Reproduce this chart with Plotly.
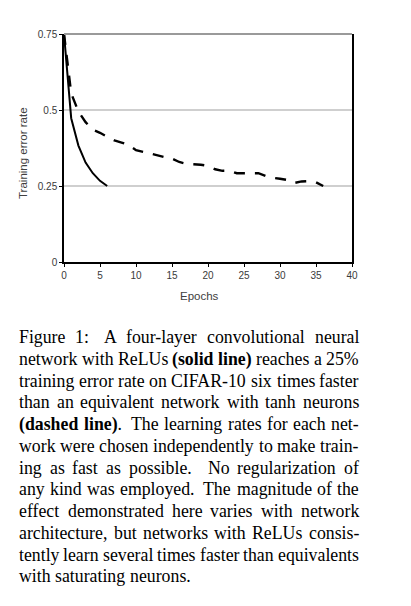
import re
import plotly.graph_objects as go

# ---------------- data ----------------
relu_epochs = [0, 1, 2, 3, 4, 5, 6]
relu_error = [0.75, 0.473, 0.383, 0.327, 0.292, 0.267, 0.25]

tanh_epochs = list(range(0, 37))
tanh_error = [0.75, 0.555, 0.495, 0.46, 0.435, 0.425, 0.412, 0.40, 0.393, 0.385,
              0.368, 0.362, 0.355, 0.35, 0.345, 0.34, 0.329, 0.323, 0.322, 0.32,
              0.316, 0.305, 0.300, 0.300, 0.292, 0.292, 0.294, 0.292, 0.283, 0.277,
              0.274, 0.27, 0.26, 0.265, 0.266, 0.262, 0.25]

x_ticks = [0, 5, 10, 15, 20, 25, 30, 35, 40]
y_ticks = [0, 0.25, 0.5, 0.75]
y_ticktext = ["0", "0.25", "0.5", "0.75"]

x_title = "Epochs"
y_title = "Training error rate"

caption_lines = [
    "Figure 1:  A four-layer convolutional neural",
    "network with ReLUs <b>(solid</b> <b>line)</b> reaches a 25%",
    "training error rate on CIFAR-10 six times faster",
    "than an equivalent network with tanh neurons",
    "<b>(dashed</b> <b>line)</b>. The learning rates for each net-",
    "work were chosen independently to make train-",
    "ing as fast as possible.  No regularization of",
    "any kind was employed. The magnitude of the",
    "effect demonstrated here varies with network",
    "architecture, but networks with ReLUs consis-",
    "tently learn several times faster than equivalents",
    "with saturating neurons.",
]

# ---------------- figure geometry ----------------
W, H = 411, 606
ML, MR, MT, MB = 64, 59, 34, 344
PW, PH = W - ML - MR, H - MT - MB

fig = go.Figure()
fig.add_trace(go.Scatter(x=tanh_epochs, y=tanh_error, mode="lines",
                         line=dict(color="black", width=2.4, dash="11px,10px"),
                         showlegend=False, hoverinfo="skip"))
fig.add_trace(go.Scatter(x=relu_epochs, y=relu_error, mode="lines",
                         line=dict(color="black", width=2),
                         showlegend=False, hoverinfo="skip"))

tick_font = dict(family="Liberation Sans, Arial, sans-serif", size=10, color="#3a3a3a")
fig.update_layout(
    width=W, height=H,
    margin=dict(l=ML, r=MR, t=MT, b=MB, pad=0),
    paper_bgcolor="white", plot_bgcolor="white",
    xaxis=dict(range=[0, 40], tickvals=x_ticks, showgrid=False, zeroline=False,
               showline=True, linecolor="black", linewidth=1.5,
               ticks="outside", ticklen=3, tickcolor="black", tickwidth=1,
               tickfont=tick_font, fixedrange=True),
    yaxis=dict(range=[0, 0.75], tickvals=y_ticks, ticktext=y_ticktext,
               showgrid=True, gridcolor="#cfcfcf", gridwidth=1.5, zeroline=False,
               showline=True, mirror=True, linecolor="black", linewidth=1.5,
               ticks="outside", ticklen=3, tickcolor="black", tickwidth=1,
               tickfont=tick_font, fixedrange=True),
)
# top frame line (gray)
fig.add_shape(type="line", xref="paper", yref="paper", x0=0, x1=1, y0=1, y1=1,
              line=dict(color="#9a9a9a", width=2))

title_font = dict(family="Liberation Sans, Arial, sans-serif", size=11.5, color="#404040")
fig.add_annotation(text=x_title, xref="paper", yref="paper",
                   x=(199 - ML) / PW, y=(MT + PH - 296) / PH,
                   xanchor="center", yanchor="middle", showarrow=False, font=title_font)
fig.add_annotation(text=y_title, xref="paper", yref="paper",
                   x=(23 - ML) / PW, y=(MT + PH - 153) / PH, textangle=-90,
                   xanchor="center", yanchor="middle", showarrow=False, font=title_font)

# ---------------- justified caption ----------------
REG = {' ': 250, '!': 333, '%': 833, '(': 333, ')': 333, ',': 250, '-': 333, '.': 250,
       ':': 278, ';': 278, '0': 500, '1': 500, '2': 500, '3': 500, '4': 500, '5': 500,
       '6': 500, '7': 500, '8': 500, '9': 500,
       'A': 722, 'B': 667, 'C': 667, 'D': 722, 'E': 611, 'F': 556, 'G': 722, 'H': 722,
       'I': 333, 'J': 389, 'K': 722, 'L': 611, 'M': 889, 'N': 722, 'O': 722, 'P': 556,
       'Q': 722, 'R': 667, 'S': 556, 'T': 611, 'U': 722, 'V': 722, 'W': 944, 'X': 722,
       'Y': 722, 'Z': 611,
       'a': 444, 'b': 500, 'c': 444, 'd': 500, 'e': 444, 'f': 333, 'g': 500, 'h': 500,
       'i': 278, 'j': 278, 'k': 500, 'l': 278, 'm': 778, 'n': 500, 'o': 500, 'p': 500,
       'q': 500, 'r': 333, 's': 389, 't': 278, 'u': 500, 'v': 500, 'w': 722, 'x': 500,
       'y': 500, 'z': 444}
BOLD = {'(': 333, ')': 333, 'a': 500, 'd': 556, 'e': 444, 'h': 556, 'i': 278,
        'l': 278, 'n': 556, 'o': 500, 's': 389}

FS = 17.8
LEFT, RIGHT = 19.0, 359.0
BASE0, LEAD = 343.3, 21.73
cap_font = dict(family="Liberation Serif, Times New Roman, serif", size=FS, color="black")


def word_width(w):
    total = 0.0
    for bold, seg in re.findall(r"(<b>)?([^<]*)(?:</b>)?", w):
        table = BOLD if bold else REG
        for ch in seg:
            total += table.get(ch, REG.get(ch, 500))
    return total / 1000.0 * FS


def glue(prev_word):
    plain = re.sub(r"<[^>]+>", "", prev_word)
    if plain.endswith(".") or plain.endswith("!") or plain.endswith("?"):
        return 0.25 + 0.08, 3.0
    if plain.endswith(":"):
        return 0.25 + 0.04, 2.0
    if plain.endswith(","):
        return 0.25, 1.25
    return 0.25, 1.0


for i, line in enumerate(caption_lines):
    words = [w for w in line.split(" ") if w]
    widths = [word_width(w) for w in words]
    glues = [glue(w) for w in words[:-1]]
    nat = sum(widths) + sum(g[0] * FS for g in glues)
    last = i == len(caption_lines) - 1
    if last or not glues:
        r = 0.0
    else:
        r = (RIGHT - LEFT - nat) / sum(g[1] for g in glues)
    baseline = BASE0 + LEAD * i
    cy = baseline - 0.3375 * FS
    x = LEFT
    for j, w in enumerate(words):
        fig.add_annotation(text=w, xref="paper", yref="paper",
                           x=(x - ML) / PW, y=(MT + PH - cy) / PH,
                           xanchor="left", yanchor="middle", showarrow=False,
                           borderpad=0, borderwidth=0, font=cap_font)
        if j < len(glues):
            x += widths[j] + glues[j][0] * FS + glues[j][1] * r

fig.write_html("out.html")
